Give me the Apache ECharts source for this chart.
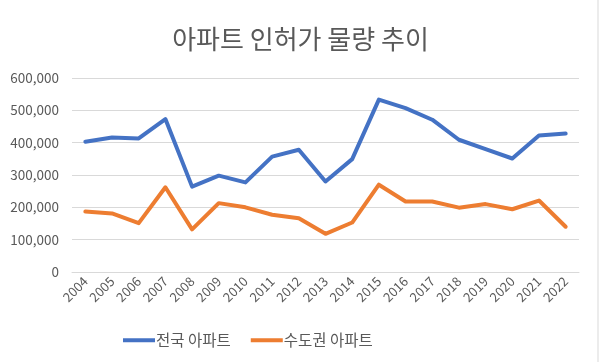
<!DOCTYPE html>
<html><head><meta charset="utf-8">
<script src="https://cdn.jsdelivr.net/npm/echarts@6/dist/echarts.min.js"></script>
<style>html,body{margin:0;padding:0;background:#fff}#c{width:601px;height:362px}</style>
</head><body><div id="c"></div>
<script>
const categories = ['2004','2005','2006','2007','2008','2009','2010','2011','2012','2013','2014','2015','2016','2017','2018','2019','2020','2021','2022'];
const nationwide = [403000,416000,413000,473000,264000,298000,277000,357000,378000,280000,349000,533000,507000,471000,409000,380000,351000,422000,428000];
const capital = [187000,181000,151000,262000,132000,213000,200000,177000,166000,118000,153000,270000,218000,218000,199000,210000,194000,221000,140000];
const seriesNames = ['전국 아파트','수도권 아파트'];
const yTicks = [0,100000,200000,300000,400000,500000,600000];

const font = '"Noto Sans CJK KR", "Noto Sans", sans-serif';
const chart = echarts.init(document.getElementById('c'));
chart.setOption({
  animation: false,
  title: { text: '아파트 인허가 물량 추이', left: 'center', top: 21,
    textStyle: { fontFamily: font, fontSize: 26, fontWeight: 'normal', color: '#595959' } },
  grid: { left: 72, right: 22, top: 78, bottom: 90 },
  legend: { bottom: 9, left: 118, itemWidth: 32, itemHeight: 4, itemGap: 20,
    icon: 'rect',
    textStyle: { fontFamily: font, fontSize: 15.5, color: '#595959', padding: [0,0,0,-4] },
    data: seriesNames },
  xAxis: { type: 'category', data: categories, boundaryGap: true,
    axisLine: { lineStyle: { color: '#d9d9d9' } }, axisTick: { show: false },
    axisLabel: { rotate: 45, fontFamily: font, fontSize: 13, color: '#595959', margin: 7, interval: 0 } },
  yAxis: { type: 'value', min: yTicks[0], max: yTicks[yTicks.length-1], interval: 100000,
    axisLine: { show: false }, axisTick: { show: false },
    splitLine: { lineStyle: { color: '#d9d9d9' } },
    axisLabel: { fontFamily: font, fontSize: 13.5, color: '#595959', margin: 13,
      formatter: v => v.toLocaleString('en-US') } },
  series: [
    { name: seriesNames[0], type: 'line', data: nationwide, symbol: 'none',
      lineStyle: { width: 4, color: '#4472C4', join: 'round', cap: 'round' }, itemStyle: { color: '#4472C4' } },
    { name: seriesNames[1], type: 'line', data: capital, symbol: 'none',
      lineStyle: { width: 4, color: '#ED7D31', join: 'round', cap: 'round' }, itemStyle: { color: '#ED7D31' } }
  ],
  graphic: [{ type: 'line', shape: { x1: 598, y1: 0, x2: 598, y2: 362 }, style: { stroke: '#d9d9d9', lineWidth: 1 } }]
});
</script></body></html>
